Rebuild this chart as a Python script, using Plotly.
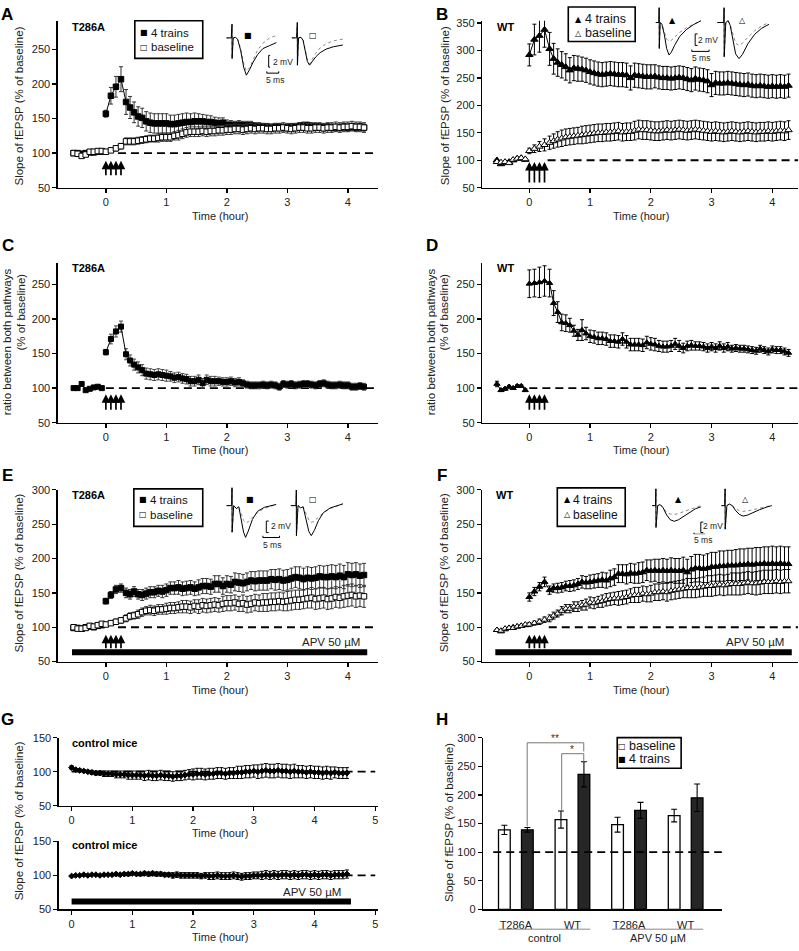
import plotly.graph_objects as go

W, H = 799, 951
FONT = "Liberation Sans, Arial, sans-serif"

# ======================= DATA =======================
train_min = [0, 5, 10, 15]                      # theta-burst trains (min)
pre_min = [-32, -28, -24, -20, -16, -12, -8, -4]
post_min = [0, 5, 10, 15] + list(range(20, 257, 4))
ctrl_min = list(range(0, 273, 4))

# ---- A : T286A, slope of fEPSP ----
A_trains_pre = [100, 100, 99, 100, 101, 101, 102, 102]
A_base_pre = [100, 99, 96, 98, 102, 102, 103, 103]
A_trains = [157, 183, 196, 207, 174, 166, 159, 153, 151, 146,
            144, 143, 143, 143, 143, 142, 142, 143, 144, 145,
            145, 146, 146, 146, 145, 145, 144, 143, 144, 141,
            141, 140, 141, 140, 140, 140, 139, 139, 138, 138,
            137, 138, 138, 137, 137, 138, 138, 139, 140, 140,
            139, 138, 138, 137, 138, 137, 137, 137, 138, 137,
            138, 137, 138, 137]
A_trains_err = [5, 12, 15, 18, 18, 16, 15, 14, 14, 14,
                14, 14, 14, 14, 14, 13, 13, 13, 13, 13,
                12, 12, 11, 10, 10, 9, 8, 8, 7, 7,
                6, 6, 6, 6, 6, 6, 5, 5, 5, 5,
                5, 5, 5, 5, 5, 5, 5, 5, 5, 5,
                5, 5, 5, 5, 5, 5, 5, 5, 5, 5,
                5, 5, 5, 5]
A_base = [102, 104, 107, 110, 117, 117, 117, 118, 119, 120,
          121, 121, 122, 123, 123, 123, 125, 126, 128, 130,
          131, 131, 131, 132, 131, 132, 132, 133, 133, 134,
          134, 135, 135, 134, 135, 136, 135, 136, 136, 135,
          135, 136, 136, 137, 136, 135, 136, 137, 137, 136,
          136, 137, 137, 136, 137, 137, 138, 137, 138, 138,
          139, 138, 138, 137]
A_base_err = [3, 3, 4, 4, 5, 5, 5, 5, 5, 5,
              5, 5, 6, 6, 6, 6, 6, 7, 7, 7,
              7, 7, 7, 7, 7, 7, 7, 7, 7, 7,
              7, 7, 7, 7, 7, 7, 7, 7, 7, 7,
              7, 7, 7, 7, 7, 7, 7, 7, 7, 7,
              7, 7, 7, 7, 7, 7, 7, 7, 7, 7,
              7, 7, 7, 7]

# ---- B : WT, slope of fEPSP ----
B_trains_pre = [100, 93, 96, 97, 100, 103, 104, 101]
B_base_pre = [97, 96, 97, 95, 101, 103, 104, 102]
B_trains = [292, 320, 327, 338, 303, 285, 278, 274, 270, 264,
            268, 267, 266, 264, 261, 259, 257, 256, 257, 258,
            257, 256, 256, 255, 250, 255, 254, 253, 252, 252,
            253, 251, 250, 250, 249, 250, 251, 250, 248, 246,
            249, 247, 246, 244, 237, 241, 240, 240, 241, 240,
            239, 238, 237, 238, 236, 235, 236, 235, 234, 235,
            234, 235, 234, 236]
B_trains_err = [20, 28, 30, 32, 30, 28, 25, 24, 24, 23,
                23, 23, 22, 22, 22, 22, 22, 22, 22, 22,
                22, 22, 22, 22, 22, 22, 22, 22, 22, 22,
                21, 21, 21, 21, 21, 21, 21, 21, 21, 21,
                21, 21, 21, 21, 21, 21, 21, 21, 21, 21,
                21, 21, 21, 21, 21, 21, 21, 21, 21, 21,
                21, 21, 21, 21]
B_base = [117, 121, 125, 128, 132, 135, 138, 140, 142, 143,
          144, 145, 146, 147, 148, 149, 150, 150, 151, 151,
          152, 153, 151, 152, 152, 154, 156, 155, 155, 154,
          153, 153, 154, 155, 154, 155, 156, 155, 154, 155,
          156, 155, 154, 153, 152, 153, 152, 151, 152, 153,
          152, 151, 152, 153, 152, 151, 152, 152, 153, 152,
          153, 154, 153, 155]
B_base_err = [5, 7, 9, 11, 12, 13, 14, 15, 15, 15,
              15, 15, 16, 16, 16, 16, 16, 16, 16, 16,
              16, 16, 16, 16, 16, 17, 17, 17, 17, 17,
              17, 17, 17, 17, 17, 17, 17, 17, 17, 17,
              17, 17, 17, 17, 17, 17, 17, 17, 17, 17,
              17, 17, 17, 17, 17, 17, 17, 17, 17, 17,
              17, 17, 17, 17]

# ---- C : T286A, ratio between pathways ----
C_pre = [100, 100, 106, 97, 99, 101, 102, 100]
C_ratio = [152, 171, 182, 189, 149, 140, 134, 130, 126, 121,
           120, 119, 120, 119, 118, 117, 115, 116, 114, 113,
           110, 110, 112, 107, 112, 110, 110, 110, 109, 109,
           110, 108, 109, 107, 105, 104, 104, 104, 105, 104,
           105, 104, 102, 106, 105, 106, 104, 105, 106, 106,
           105, 104, 106, 107, 105, 104, 104, 105, 104, 104,
           102, 102, 103, 102]
C_err = [4, 7, 8, 8, 8, 8, 8, 8, 8, 8,
         8, 8, 8, 8, 8, 7, 7, 7, 7, 7,
         7, 7, 7, 7, 7, 7, 7, 6, 6, 6,
         6, 6, 6, 5, 5, 5, 5, 5, 5, 5,
         5, 5, 5, 5, 5, 5, 5, 5, 5, 5,
         5, 5, 5, 5, 5, 5, 5, 5, 5, 5,
         5, 5, 5, 5]

# ---- D : WT, ratio between pathways ----
D_pre = [106, 97, 99, 102, 100, 103, 103, 97]
D_ratio = [251, 252, 253, 255, 252, 223, 210, 195, 194, 191,
           183, 177, 184, 179, 175, 174, 172, 172, 171, 168,
           168, 167, 171, 167, 163, 163, 163, 162, 166, 164,
           163, 161, 160, 160, 161, 164, 161, 158, 161, 162,
           161, 161, 160, 158, 160, 158, 161, 158, 160, 157,
           158, 157, 157, 156, 155, 154, 157, 155, 153, 156,
           155, 155, 153, 151]
D_err = [20, 20, 22, 22, 20, 18, 15, 12, 12, 10,
         8, 8, 15, 9, 9, 9, 9, 9, 9, 9,
         9, 9, 9, 9, 9, 9, 9, 9, 9, 9,
         9, 8, 8, 8, 8, 8, 8, 7, 7, 7,
         6, 6, 6, 6, 6, 6, 6, 6, 6, 5,
         5, 5, 5, 5, 5, 5, 5, 5, 5, 5,
         5, 5, 5, 5]

# ---- E : T286A + APV ----
E_trains_pre = [99, 99, 98, 100, 101, 100, 102, 103]
E_base_pre = [100, 98, 98, 99, 102, 101, 103, 105]
E_trains = [138, 147, 155, 157, 150, 148, 152, 148, 147, 149,
            151, 151, 153, 152, 154, 157, 157, 158, 156, 157,
            158, 156, 158, 160, 160, 159, 163, 163, 160, 163,
            162, 166, 165, 164, 166, 168, 167, 168, 168, 168,
            170, 169, 170, 168, 169, 171, 173, 172, 170, 172,
            171, 172, 174, 173, 173, 174, 173, 175, 173, 177,
            176, 177, 175, 176]
E_trains_err = [4, 5, 6, 6, 7, 7, 7, 7, 8, 8,
                8, 8, 8, 9, 9, 9, 9, 10, 10, 10,
                10, 10, 11, 11, 11, 11, 12, 12, 12, 12,
                12, 13, 13, 13, 13, 13, 14, 14, 14, 14,
                14, 15, 15, 15, 15, 15, 15, 16, 16, 16,
                16, 16, 16, 16, 17, 17, 17, 17, 17, 17,
                17, 17, 17, 17]
E_base = [104, 106, 108, 110, 113, 116, 117, 119, 122, 124,
          125, 124, 126, 126, 127, 128, 128, 129, 130, 130,
          129, 131, 130, 132, 131, 132, 133, 132, 134, 135,
          135, 136, 134, 135, 133, 134, 136, 135, 136, 136,
          137, 137, 138, 137, 138, 139, 140, 140, 141, 142,
          143, 141, 142, 143, 141, 142, 144, 143, 145, 146,
          147, 145, 146, 145]
E_base_err = [3, 3, 4, 4, 5, 5, 5, 6, 6, 6,
              7, 7, 7, 7, 8, 8, 8, 8, 9, 9,
              9, 9, 10, 10, 10, 10, 10, 10, 11, 11,
              11, 11, 11, 12, 12, 12, 12, 12, 13, 13,
              13, 13, 13, 13, 14, 14, 14, 14, 14, 14,
              15, 15, 15, 15, 15, 15, 15, 15, 16, 16,
              16, 16, 16, 16]

# ---- F : WT + APV ----
F_trains_pre = [96, 94, 97, 99, 100, 101, 102, 103]
F_base_pre = [96, 95, 98, 99, 99, 101, 102, 104]
F_trains = [144, 152, 159, 166, 154, 157, 157, 158, 160, 160,
            161, 163, 166, 165, 166, 167, 168, 169, 168, 171,
            173, 178, 178, 177, 179, 178, 179, 180, 183, 182,
            183, 182, 183, 182, 183, 182, 182, 183, 180, 184,
            186, 186, 185, 186, 188, 188, 189, 189, 190, 190,
            190, 191, 191, 192, 191, 192, 192, 193, 192, 193,
            192, 193, 192, 192]
F_trains_err = [6, 6, 6, 7, 6, 6, 7, 7, 7, 8,
                8, 8, 9, 9, 10, 10, 10, 11, 11, 12,
                12, 13, 13, 14, 14, 14, 15, 15, 15, 16,
                16, 17, 17, 17, 18, 18, 18, 19, 19, 19,
                20, 20, 20, 21, 21, 21, 22, 22, 22, 22,
                23, 23, 23, 23, 24, 24, 24, 24, 25, 25,
                25, 25, 25, 25]
F_base = [104, 106, 108, 111, 113, 117, 120, 124, 127, 127,
          130, 130, 132, 133, 136, 135, 137, 138, 140, 141,
          142, 142, 143, 144, 146, 147, 147, 149, 148, 149,
          151, 151, 152, 151, 153, 154, 155, 156, 157, 157,
          157, 158, 159, 160, 160, 161, 162, 161, 162, 163,
          163, 163, 164, 165, 164, 164, 165, 166, 166, 166,
          167, 166, 167, 167]
F_base_err = [3, 3, 4, 4, 5, 5, 5, 6, 6, 6,
              7, 7, 7, 8, 8, 8, 8, 9, 9, 9,
              9, 10, 10, 10, 10, 11, 11, 11, 11, 12,
              12, 12, 12, 13, 13, 13, 13, 13, 14, 14,
              14, 14, 14, 15, 15, 15, 15, 15, 15, 16,
              16, 16, 16, 16, 16, 17, 17, 17, 17, 17,
              17, 17, 17, 17]

# ---- G : control mice (no stimulation) ----
G_ctrl = [106, 103, 102, 101, 100, 99, 98, 98, 97, 97,
          97, 96, 96, 96, 95, 95, 95, 95, 94, 95,
          94, 94, 95, 94, 94, 93, 94, 94, 95, 96,
          96, 97, 97, 96, 97, 97, 98, 98, 97, 98,
          98, 99, 99, 100, 100, 101, 100, 101, 102, 101,
          101, 102, 101, 101, 100, 101, 100, 100, 99, 100,
          99, 99, 98, 99, 98, 99, 98, 98, 98]
G_ctrl_err = [3, 2, 2, 2, 2, 3, 3, 3, 4, 4,
              4, 5, 5, 5, 6, 6, 6, 6, 7, 7,
              7, 7, 7, 7, 7, 7, 7, 7, 7, 7,
              8, 8, 8, 8, 8, 8, 8, 8, 8, 8,
              8, 9, 9, 9, 9, 9, 10, 10, 10, 10,
              10, 10, 10, 10, 10, 10, 9, 9, 9, 9,
              9, 9, 9, 9, 9, 8, 8, 8, 8]
G_apv = [99, 100, 100, 101, 100, 101, 101, 100, 101, 101,
         101, 102, 101, 102, 102, 103, 102, 102, 103, 102,
         103, 102, 102, 101, 101, 100, 101, 100, 100, 100,
         100, 100, 99, 100, 99, 99, 100, 99, 99, 99,
         100, 99, 98, 99, 99, 100, 100, 100, 101, 100,
         101, 100, 101, 101, 100, 101, 100, 101, 101, 100,
         101, 100, 101, 101, 100, 101, 101, 101, 102]
G_apv_err = [1, 1, 1, 1, 1, 1, 1, 1, 1, 1,
             1, 1, 2, 2, 2, 2, 2, 2, 3, 3,
             3, 3, 3, 3, 3, 4, 4, 4, 4, 4,
             4, 4, 4, 4, 5, 5, 5, 5, 5, 5,
             5, 5, 5, 5, 5, 5, 5, 6, 6, 6,
             6, 6, 6, 6, 6, 6, 6, 6, 6, 6,
             6, 6, 6, 6, 6, 6, 6, 6, 6]

# APV application periods (hours)
apv_EF = [-0.56, 4.32]
apv_G = [0.0, 4.6]

# ---- H : summary bars ----
H_genotype = ["T286A", "WT", "T286A", "WT"]
H_condition = ["control", "APV 50 µM"]
H_base_mean = [139, 157, 148, 164]
H_base_err = [8, 15, 13, 11]
H_trains_mean = [139, 236, 173, 195]
H_trains_err = [4, 22, 14, 24]

# ---- insets : example fEPSP traces (ms, mV) ----
wA1_t = [-2.3, -0.3, 0, 0.04, 0.5, 1.5, 2.4, 3.6, 4.9, 6.0, 7.4, 8.8, 10.7, 12.9, 15.7, 18.5]
wA1_a = [0, 0, 2.3, -3.5, 0, 0.1, -0.3, -2.1, -5.0, -6.3, -5.3, -4.1, -2.8, -1.8, -1.3, -0.8]
wA1_b = [0, 0, 2.3, -3.5, 0, 0.1, -0.3, -1.8, -4.3, -5.6, -5.0, -3.6, -2.0, -0.9, 0.0, 0.4]
wA2_t = [-2.3, -0.3, 0, 0.04, 0.5, 1.5, 2.4, 3.3, 4.2, 5.1, 6.3, 7.7, 9.5, 12, 15, 19]
wA2_a = [0, 0, 2.6, -4.6, 0, 0.1, -0.4, -2.2, -4.0, -4.6, -4.0, -3.2, -2.5, -1.9, -1.5, -1.2]
wA2_b = [0, 0, 2.6, -4.6, 0, 0.1, -0.3, -1.9, -3.7, -4.4, -3.6, -2.6, -1.7, -1.0, -0.5, -0.2]
wB1_t = [-1.0, -0.1, 0, 0.03, 0.3, 0.8, 1.5, 2.2, 2.9, 3.6, 4.5, 6, 8, 10, 12.3]
wB1_a = [0, 0, 2.5, -4.4, 0, -0.3, -2.0, -4.4, -5.5, -5.0, -3.9, -2.4, -1.2, -0.4, 0.3]
wB1_b = [0, 0, 2.5, -4.4, 0, -0.3, -1.5, -2.8, -3.2, -3.0, -2.5, -1.7, -0.9, -0.3, 0.3]
wB2_t = [-2.0, -0.1, 0, 0.03, 0.5, 1.2, 1.8, 2.6, 3.4, 4.4, 5.4, 7, 9, 11, 13.2]
wB2_a = [0, 0, 2.5, -5.8, 0, 0.3, -0.5, -3.0, -5.3, -6.1, -5.4, -3.6, -2.0, -1.0, -0.3]
wB2_b = [0, 0, 2.5, -5.8, 0, 0.3, -0.4, -2.2, -3.5, -3.9, -3.5, -2.5, -1.4, -0.6, 0.0]
wE1_t = [-1.6, -0.1, 0, 0.03, 0.5, 1.3, 2.0, 2.8, 3.4, 4.0, 4.8, 6, 7.5, 9.5, 13]
wE1_a = [0, 0, 3.1, -4.6, 0, -0.5, -0.2, -2.6, -4.6, -5.5, -4.4, -2.4, -1.0, -0.3, 0.2]
wE1_b = [0, 0, 3.1, -4.6, 0, -0.5, -0.2, -1.6, -2.6, -3.0, -2.8, -2.0, -1.2, -0.5, 0.2]
wE2_t = [-1.6, -0.1, 0, 0.03, 0.5, 1.3, 2.0, 2.9, 3.7, 4.4, 5.3, 6.5, 8, 10, 13.7]
wE2_a = [0, 0, 2.7, -5.2, 0, -0.4, -0.2, -2.6, -4.5, -5.2, -4.3, -2.6, -1.2, -0.4, 0.3]
wE2_b = [0, 0, 2.7, -5.2, 0, -0.4, -0.2, -1.5, -2.5, -2.9, -2.7, -2.0, -1.2, -0.5, 0.3]
wF1_t = [-1.0, -0.1, 0, 0.03, 0.5, 1.2, 2.0, 3.0, 4.0, 5.1, 6.3, 7.8, 9.5, 11, 12.5]
wF1_a = [0, 0, 3.2, -4.2, 0, 0.2, -0.4, -1.8, -2.7, -3.0, -2.7, -2.0, -1.2, -0.6, -0.25]
wF1_b = [0, 0, 3.2, -4.2, 0, 0.2, -0.4, -1.3, -1.6, -1.7, -1.5, -1.1, -0.7, -0.3, 0.0]
wF2_t = [-1.0, -0.1, 0, 0.03, 0.5, 1.2, 2.0, 3.0, 4.0, 5.0, 6.3, 7.8, 9.5, 11.5, 13]
wF2_a = [0, 0, 3.2, -4.5, 0, 0.3, 0.0, -1.0, -1.7, -2.0, -1.8, -1.3, -0.8, -0.3, 0.0]
wF2_b = [0, 0, 3.2, -4.5, 0, 0.3, 0.0, -0.6, -1.0, -1.1, -1.0, -0.8, -0.5, -0.2, 0.1]

for arr in (A_trains, A_trains_err, A_base, A_base_err, B_trains, B_trains_err, B_base, B_base_err,
            C_ratio, C_err, D_ratio, D_err, E_trains, E_trains_err, E_base, E_base_err,
            F_trains, F_trains_err, F_base, F_base_err):
    assert len(arr) == len(post_min), len(arr)
for arr in (G_ctrl, G_ctrl_err, G_apv, G_apv_err):
    assert len(arr) == len(ctrl_min), len(arr)

# ======================= HELPERS =======================
def hrs(mins):
    return [m / 60 for m in mins]

def X(p):
    return p / W

def Y(p):
    return 1 - p / H

def rng(p0, p1, va, pa, vb, pb):
    s = (pb - pa) / (vb - va)
    return [va + (p0 - pa) / s, va + (p1 - pa) / s]

fig = go.Figure()
layout = dict(width=W, height=H, margin=dict(l=0, r=0, t=0, b=0),
              paper_bgcolor="white", plot_bgcolor="white", showlegend=False,
              font=dict(family=FONT, size=11, color="#222"))
annotations = []
shapes = []

def names(n):
    if n == 1:
        return "x", "y", "xaxis", "yaxis"
    return f"x{n}", f"y{n}", f"xaxis{n}", f"yaxis{n}"

AX = dict(showline=True, linecolor="black", linewidth=1.5, ticks="outside", ticklen=4,
          tickwidth=1.3, tickcolor="black", showgrid=False, zeroline=False,
          tickfont=dict(size=11, color="#222", family=FONT), fixedrange=True)

def panel(n, xpx, ypx, xr, yr, xticks, yticks, xtext=None, hide_xticks=False):
    ax, ay, kx, ky = names(n)
    xa = dict(AX, domain=[X(xpx[0]), X(xpx[1])], range=xr, anchor=ay, tickvals=xticks)
    if xtext is not None:
        xa["ticktext"] = xtext
    if hide_xticks:
        xa["tickcolor"] = "rgba(0,0,0,0)"
        xa["ticklen"] = 5
    layout[kx] = xa
    layout[ky] = dict(AX, domain=[Y(ypx[1]), Y(ypx[0])], range=yr, anchor=ax, tickvals=yticks)

def inset(n, box, origin, pms, pmv):
    ax, ay, kx, ky = names(n)
    x0, y0, x1, y1 = box
    ox, oy = origin
    layout[kx] = dict(domain=[X(x0), X(x1)], range=[(x0 - ox) / pms, (x1 - ox) / pms],
                      anchor=ay, visible=False, fixedrange=True)
    layout[ky] = dict(domain=[Y(y1), Y(y0)], range=[(oy - y1) / pmv, (oy - y0) / pmv],
                      anchor=ax, visible=False, fixedrange=True)

def ann(x, y, text, size=11, bold=False, xanchor="center", angle=0, color="#222", family=FONT):
    annotations.append(dict(x=X(x), y=Y(y), xref="paper", yref="paper",
                            text=f"<b>{text}</b>" if bold else text, showarrow=False,
                            xanchor=xanchor, yanchor="middle", textangle=angle, borderpad=0,
                            font=dict(size=size, color=color, family=family)))

def series(n, xs, ys, err, symbol, filled, size, errcolor="black", lw=1.0):
    ax, ay, _, _ = names(n)
    ey = dict(type="data", array=err, visible=True, color=errcolor, thickness=1, width=2) \
        if err is not None else dict(visible=False)
    fig.add_trace(go.Scatter(
        x=xs, y=ys, xaxis=ax, yaxis=ay, mode="lines+markers",
        line=dict(color="black", width=lw),
        marker=dict(symbol=symbol, size=size, color="black" if filled else "white",
                    line=dict(color="black", width=1)),
        error_y=ey, cliponaxis=False, hoverinfo="skip"))

def wave(n, t, v, dotted=False):
    ax, ay, _, _ = names(n)
    fig.add_trace(go.Scatter(x=t, y=v, xaxis=ax, yaxis=ay, mode="lines",
                             line=dict(color="#888" if dotted else "black", width=1,
                                       dash="dot" if dotted else "solid"),
                             hoverinfo="skip", cliponaxis=False))

def dashed100(n, x0, x1, y=100):
    ax, ay, _, _ = names(n)
    shapes.append(dict(type="line", xref=ax, yref=ay, x0=x0, x1=x1, y0=y, y1=y, layer="below",
                       line=dict(color="black", width=1.8, dash="8px,5px")))

def arrows(n, tip, length):
    ax, ay, _, _ = names(n)
    for t in hrs(train_min):
        annotations.append(dict(x=t, y=tip, xref=ax, yref=ay, ax=0, ay=length, text="",
                                showarrow=True, arrowhead=2, arrowsize=1, arrowwidth=1.7,
                                arrowcolor="black"))

def apv_bar(n, period, yval):
    ax, ay, _, _ = names(n)
    fig.add_trace(go.Scatter(x=period, y=[yval, yval], xaxis=ax, yaxis=ay, mode="lines",
                             line=dict(color="black", width=6), hoverinfo="skip"))

def legend_box(box, items, sym_x, text_x, size):
    x0, y0, x1, y1 = box
    shapes.append(dict(type="rect", xref="paper", yref="paper", x0=X(x0), x1=X(x1),
                       y0=Y(y1), y1=Y(y0), line=dict(color="black", width=1.6),
                       fillcolor="white", layer="above"))
    for sym, txt, yy in items:
        ann(sym_x, yy, sym, size=8, family="DejaVu Sans", color="black")
        ann(text_x, yy, txt, size=size, xanchor="left", color="#111")

def scalebar(n, vx, vy0, vy1, hx0, hx1, hy, tick_t, tick_v):
    ax, ay, _, _ = names(n)
    shapes.append(dict(type="path", xref=ax, yref=ay, layer="above",
                       path=f"M {vx + tick_t},{vy0} L {vx},{vy0} L {vx},{vy1} L {vx + tick_t},{vy1}",
                       line=dict(color="black", width=1)))
    shapes.append(dict(type="path", xref=ax, yref=ay, layer="above",
                       path=f"M {hx0},{hy + tick_v} L {hx0},{hy} L {hx1},{hy} L {hx1},{hy + tick_v}",
                       line=dict(color="black", width=1)))

# ======================= PANELS =======================
xL = (58, 378)
xR = (483, 799)
xrL = rng(58, 378, 0, 106, 4, 348.3)
xrR = rng(483, 799, 0, 530, 4, 773.3)
tick04 = [0, 1, 2, 3, 4]

panel(1, xL, (15, 184), xrL, rng(184, 15, 50, 184, 250, 44), tick04, [50, 100, 150, 200, 250])
panel(2, xR, (15, 184), xrR, rng(184, 15, 50, 184, 350, 17.3), tick04, [50, 100, 150, 200, 250, 300, 350])
panel(3, xL, (260, 422), xrL, rng(422, 260, 50, 422, 250, 282), tick04, [50, 100, 150, 200, 250])
panel(4, xR, (260, 422), xrR, rng(422, 260, 50, 422, 250, 282), tick04, [50, 100, 150, 200, 250])
panel(5, xL, (490, 664), xrL, [50, 300], tick04, [50, 100, 150, 200, 250, 300])
panel(6, xR, (490, 664), xrR, [50, 300], tick04, [50, 100, 150, 200, 250, 300])
xrG = rng(59, 378, 0, 71.7, 5, 375.7)
panel(7, (59, 378), (741, 810), xrG, [50, 150], [0, 1, 2, 3, 4, 5], [50, 100, 150])
panel(8, (59, 378), (846, 915), xrG, [50, 150], [0, 1, 2, 3, 4, 5], [50, 100, 150])
panel(9, (484, 723), (741, 915), rng(484, 723, 0, 516.5, 3, 686.5), [0, 300],
      [0, 1, 2, 3], [0, 50, 100, 150, 200, 250, 300], xtext=H_genotype, hide_xticks=True)

pre_h, post_h = hrs(pre_min), hrs(post_min)

# A
dashed100(1, 0.2, 4.44)
series(1, pre_h, A_trains_pre, None, "square", True, 5.5)
series(1, post_h, A_trains, A_trains_err, "square", True, 5.5, errcolor="#333")
series(1, pre_h, A_base_pre, None, "square", False, 5.5)
series(1, post_h, A_base, A_base_err, "square", False, 5.5, errcolor="#333")
arrows(1, 89, 16)
# B
dashed100(2, 0.3, 4.45)
series(2, pre_h, B_trains_pre, None, "triangle-up", True, 6.5)
series(2, post_h, B_trains, B_trains_err, "triangle-up", True, 6.5)
series(2, pre_h, B_base_pre, None, "triangle-up", False, 6.5)
series(2, post_h, B_base, B_base_err, "triangle-up", False, 6.5)
arrows(2, 97, 22)
# C
dashed100(3, 0.0, 4.44)
series(3, pre_h, C_pre, None, "square", True, 5)
series(3, post_h, C_ratio, C_err, "square", True, 5, errcolor="#444")
arrows(3, 91, 17)
# D
dashed100(4, 0.0, 4.45)
series(4, pre_h, D_pre, [4, 2, 2, 2, 2, 2, 2, 2], "triangle-up", True, 5.5)
series(4, post_h, D_ratio, D_err, "triangle-up", True, 5.5)
arrows(4, 91, 17)
# E
dashed100(5, 0.2, 4.44)
apv_bar(5, apv_EF, 63.6)
series(5, pre_h, E_trains_pre, None, "square", True, 5.5)
series(5, post_h, E_trains, E_trains_err, "square", True, 5.5, errcolor="#333")
series(5, pre_h, E_base_pre, None, "square", False, 5.5)
series(5, post_h, E_base, E_base_err, "square", False, 5.5, errcolor="#333")
arrows(5, 89, 15)
# F
dashed100(6, 0.32, 4.45)
apv_bar(6, apv_EF, 63.6)
series(6, pre_h, F_trains_pre, None, "triangle-up", True, 6)
series(6, post_h, F_trains, F_trains_err, "triangle-up", True, 6)
series(6, pre_h, F_base_pre, None, "triangle-up", False, 6)
series(6, post_h, F_base, F_base_err, "triangle-up", False, 6)
arrows(6, 89, 15)
# G
ctrl_h = hrs(ctrl_min)
dashed100(7, 0.0, 5.0)
series(7, ctrl_h, G_ctrl, G_ctrl_err, "diamond", True, 4.5, lw=1.5)
dashed100(8, 0.0, 5.0)
apv_bar(8, apv_G, 61.6)
series(8, ctrl_h, G_apv, G_apv_err, "diamond", True, 4.5, lw=1.5)

# H bars
grp_x = list(range(len(H_genotype)))
fig.add_trace(go.Bar(x=grp_x, y=H_base_mean, xaxis="x9", yaxis="y9", name="baseline",
                     marker=dict(color="white", line=dict(color="black", width=1.3)),
                     error_y=dict(type="data", array=H_base_err, color="black", thickness=1.1, width=3),
                     hoverinfo="skip"))
fig.add_trace(go.Bar(x=grp_x, y=H_trains_mean, xaxis="x9", yaxis="y9", name="4 trains",
                     marker=dict(color="#262626", line=dict(color="black", width=1.3)),
                     error_y=dict(type="data", array=H_trains_err, color="black", thickness=1.1, width=3),
                     hoverinfo="skip"))
layout["barmode"] = "group"
layout["bargap"] = 0.188
layout["bargroupgap"] = 0.49
shapes.append(dict(type="line", xref="x9", yref="y9", x0=-0.4, x1=3.64, y0=100, y1=100, layer="above",
                   line=dict(color="black", width=1.8, dash="8px,5px")))
# significance brackets
shapes.append(dict(type="path", xref="x9", yref="y9", layer="above",
                   path="M 0.2,145 L 0.2,291 L 1.2,291 L 1.2,276", line=dict(color="#777", width=1)))
shapes.append(dict(type="path", xref="x9", yref="y9", layer="above",
                   path="M 0.81,172 L 0.81,272 L 1.2,272 L 1.2,258", line=dict(color="#777", width=1)))
annotations.append(dict(x=0.69, y=298, xref="x9", yref="y9", text="**", showarrow=False,
                        font=dict(size=10, color="#333", family=FONT)))
annotations.append(dict(x=1.0, y=279, xref="x9", yref="y9", text="*", showarrow=False,
                        font=dict(size=10, color="#333", family=FONT)))
# group labels under H
shapes.append(dict(type="line", xref="paper", yref="paper", x0=X(499), x1=X(591), y0=Y(935), y1=Y(935),
                   line=dict(color="#888", width=1)))
shapes.append(dict(type="line", xref="paper", yref="paper", x0=X(613), x1=X(704), y0=Y(935), y1=Y(935),
                   line=dict(color="#888", width=1)))
ann(545.5, 944, H_condition[0], size=11)
ann(658.5, 944, H_condition[1], size=11)

# ======================= INSETS =======================
inset(10, (224, 14, 284, 75), (232.3, 32.3), 2.4, 6)
inset(11, (290, 12, 346, 66), (297.7, 32.3), 2.4, 6)
inset(12, (650, 0, 712, 50), (660, 16.7), 3.4, 6)
inset(13, (712, 0, 775, 56), (725, 16.7), 3.4, 6)
inset(14, (222, 485, 284, 542), (232.3, 506), 3.4, 5.85)
inset(15, (288, 485, 350, 542), (296.7, 506), 3.4, 5.85)
inset(16, (648, 485, 706, 535), (656.7, 506), 3.6, 5.3)
inset(17, (715, 485, 775, 535), (726, 506), 3.6, 5.3)
for n, t, a, b in [(10, wA1_t, wA1_a, wA1_b), (11, wA2_t, wA2_a, wA2_b),
                   (12, wB1_t, wB1_a, wB1_b), (13, wB2_t, wB2_a, wB2_b),
                   (14, wE1_t, wE1_a, wE1_b), (15, wE2_t, wE2_a, wE2_b),
                   (16, wF1_t, wF1_a, wF1_b), (17, wF2_t, wF2_a, wF2_b)]:
    wave(n, t, b, dotted=True)
    wave(n, t, a)

scalebar(10, 15.3, -2.95, -4.95, 14.5, 19.5, -5.95, 0.6, 0.3)
scalebar(12, 10.6, -1.93, -3.88, 9.6, 14.7, -4.88, 0.7, 0.3)
scalebar(14, 10.1, -2.68, -4.67, 9.1, 14.0, -5.52, 0.7, 0.3)
scalebar(16, 12.5, -3.15, -5.15, 10.6, 15.7, -5.47, 0.7, 0.3)
for (x, y, t) in [(272, 57, "2 mV"), (275, 75, "5 ms"), (698, 34, "2 mV"), (701.5, 52.5, "5 ms"),
                  (270.5, 527, "2 mV"), (272, 546, "5 ms"), (702.5, 527, "2 mV"), (704, 541, "5 ms")]:
    ann(x, y, t, size=8.5, xanchor="left" if "mV" in t else "center", color="#222")

for (x, y, s) in [(248.3, 30, "■"), (313.3, 30, "□"), (673.3, 15, "▲"), (743.3, 15, "△"),
                  (250, 500, "■"), (313.3, 500, "□"), (679.3, 500, "▲"), (746.7, 500, "△")]:
    ann(x, y, s, size=8, family="DejaVu Sans", color="black")

# ======================= LEGENDS =======================
legend_box((135, 15, 203, 53), [("■", "4 trains", 27), ("□", "baseline", 42)], 144, 150, 11.5)
legend_box((569, 1, 636, 36), [("▲", "4 trains", 13.5), ("△", "baseline", 27.5)], 579, 585, 12.5)
legend_box((134, 489, 203, 527), [("■", "4 trains", 500), ("□", "baseline", 515)], 143.3, 149, 11.5)
legend_box((558, 488, 626, 527), [("▲", "4 trains", 500), ("△", "baseline", 515)], 568, 573, 12)
legend_box((618, 741, 682, 772), [("□", "baseline", 749.5), ("■", "4 trains", 763)], 622.5, 629, 12.5)

# ======================= TEXT =======================
for (x, y, t) in [(7.5, 9, "A"), (443, 9, "B"), (8, 243, "C"), (433, 243, "D"),
                  (7.5, 476, "E"), (442.5, 476, "F"), (8, 722.5, "G"), (443, 722.5, "H")]:
    ann(x, y, t, size=17, bold=True, color="black")
for (x, y, t) in [(71.5, 21, "T286A"), (496.5, 21, "WT"), (71.5, 265, "T286A"), (496.5, 265, "WT"),
                  (71.5, 495, "T286A"), (496, 495, "WT"), (71.5, 746, "control mice"),
                  (71.5, 850, "control mice")]:
    ann(x, y, t, size=11, bold=True, xanchor="left", color="black")
for (x, y) in [(220, 213), (642, 213), (220, 450), (642, 450), (220, 693), (642, 693),
               (220, 838), (220, 943)]:
    ann(x, y, "Time (hour)", size=11)
ysl = "Slope of fEPSP (% of baseline)"
for (x, y) in [(18.8, 101), (445, 101), (18.8, 574), (444, 574), (18.8, 825), (449, 827)]:
    ann(x, y, ysl, size=11.5, angle=-90)
for (x1, x2) in [(6.5, 21.5), (431, 445)]:
    ann(x1, 340, "ratio between both pathways", size=11.5, angle=-90)
    ann(x2, 310, "(% of baseline)", size=11.5, angle=-90)
for (x, y) in [(331, 644), (756, 644), (312.5, 897)]:
    ann(x, y, "APV 50 µM", size=11.5)

layout["annotations"] = annotations
layout["shapes"] = shapes
fig.update_layout(**layout)

fig.write_html("out.html", config={"displayModeBar": False, "staticPlot": True},
               post_script="document.body.style.margin='0';document.body.style.overflow='hidden';")
